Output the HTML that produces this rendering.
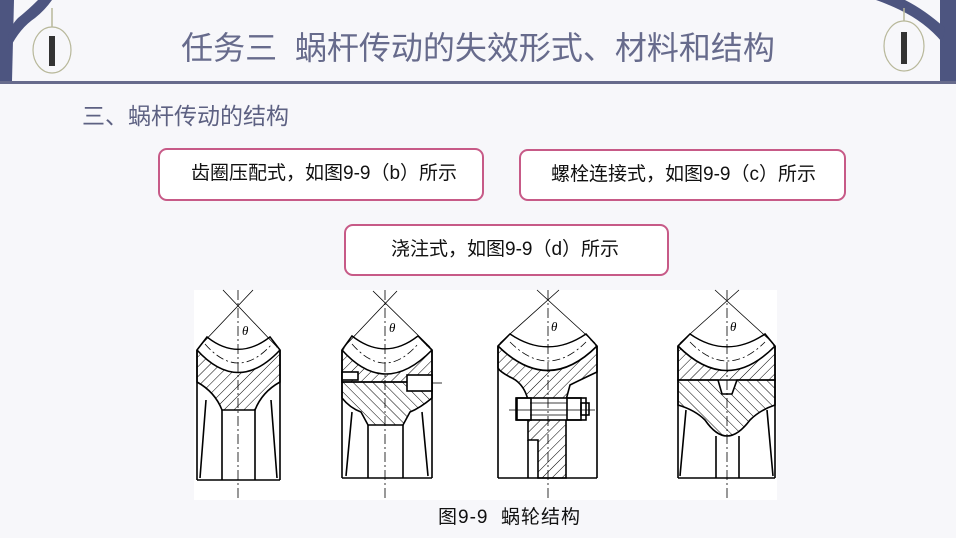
<!DOCTYPE html>
<html><head><meta charset="utf-8"><style>
html,body{margin:0;padding:0}
body{width:956px;height:538px;background:#f7f7fa;position:relative;overflow:hidden;font-family:"Liberation Sans","Noto Sans CJK SC",sans-serif}
.t{position:absolute;white-space:nowrap}
.box{position:absolute;border:2px solid #c75a87;border-radius:9px;background:#fff;box-sizing:border-box;font-size:19px;color:#111;line-height:48px}
</style></head><body>
<svg width="956" height="538" style="position:absolute;left:0;top:0">
<defs>
<pattern id="h" patternUnits="userSpaceOnUse" width="7" height="7" patternTransform="rotate(45)"><line x1="0" y1="0" x2="0" y2="7" stroke="#000" stroke-width="1"/></pattern>
<pattern id="h2" patternUnits="userSpaceOnUse" width="7" height="7" patternTransform="rotate(-45)"><line x1="0" y1="0" x2="0" y2="7" stroke="#000" stroke-width="1"/></pattern>
</defs>
<!-- header decoration -->
<rect x="0" y="81" width="956" height="3" fill="#676b8c"/>
<path d="M0,0 L14,0 L12,81 L0,81 Z" fill="#4d5580"/>
<path d="M10,48 Q20,28 35,18 Q45,10 52,0 L38,0 Q28,10 18,18 Q10,26 8,38 Z" fill="#4d5580"/>
<ellipse cx="52" cy="50" rx="19" ry="23" fill="none" stroke="#b8b89a" stroke-width="1.2"/>
<path d="M52,27 L52,8" stroke="#b8b89a" stroke-width="1.5"/>
<rect x="49" y="36" width="6" height="30" fill="#333"/>
<path d="M940,0 L956,0 L956,81 L940,81 Z" fill="#4d5580"/>
<path d="M942,42 Q925,22 900,10 Q885,3 876,0 L905,0 Q925,10 945,28 Z" fill="#4d5580"/>
<ellipse cx="904" cy="46" rx="20" ry="25" fill="none" stroke="#b8b89a" stroke-width="1.2"/>
<path d="M904,21 L904,8" stroke="#b8b89a" stroke-width="1.5"/>
<rect x="901" y="32" width="6" height="32" fill="#333"/>
<!-- figure area -->
<rect x="194" y="290" width="583" height="210" fill="#fff"/>
<g stroke="#000" stroke-width="1.6" fill="none">
<!-- fig a center 238 -->
<path d="M197,350 L207,337 Q238,362 270,337 L280,350 L280,382 Q262,392 255,410 L222,410 Q215,392 197,382 Z" fill="url(#h)"/>
<path d="M198,351 L207,338 Q238,362 270,338 L279,351 Q238,395 198,351 Z" fill="#fff" stroke="none"/>
<path d="M197,350 Q238,395 280,350"/>
<path d="M205,344 Q238,382 272,344" stroke-width="0.8" stroke-dasharray="8 3 2 3"/>
<path d="M197,350 L197,480 M280,350 L280,480 M222,410 L222,480 M255,410 L255,480 M197,480 L280,480 M206,400 L200,478 M271,400 L277,478"/>
<path d="M199,347 L253,290 M277,347 L223,290" stroke-width="0.8"/>
<path d="M238,290 L238,500" stroke-width="0.8" stroke-dasharray="10 3 2 3"/>
<text x="242" y="335" font-size="13" font-style="italic" stroke="none" fill="#000" font-family="Liberation Serif">θ</text>
<!-- fig b center 385 -->
<path d="M342,350 L352,336 Q385,362 418,336 L432,350 L432,382 L342,382 Z" fill="url(#h)"/>
<path d="M343,351 L352,337 Q385,362 418,337 L431,351 Q385,398 343,351 Z" fill="#fff" stroke="none"/>
<path d="M342,350 Q385,398 432,350"/>
<path d="M352,344 Q385,382 418,344" stroke-width="0.8" stroke-dasharray="8 3 2 3"/>
<path d="M342,382 L432,382 L432,398 Q420,408 410,412 L403,425 L368,425 L361,412 Q350,408 342,398 Z" fill="url(#h2)"/>
<rect x="342" y="372" width="16" height="8" fill="#fff"/>
<rect x="407" y="375" width="25" height="16" fill="#fff"/>
<path d="M432,383 L442,383" stroke-width="0.8"/>
<path d="M342,350 L342,478 M432,350 L432,478 M368,425 L368,478 M403,425 L403,478 M342,478 L432,478 M352,412 L346,476 M422,412 L428,476"/>
<path d="M344,347 L397,291 M430,347 L373,291" stroke-width="0.8"/>
<path d="M385,290 L385,500" stroke-width="0.8" stroke-dasharray="10 3 2 3"/>
<text x="389" y="332" font-size="13" font-style="italic" stroke="none" fill="#000" font-family="Liberation Serif">θ</text>
<!-- fig c center 548 -->
<path d="M498,346 L510,334 Q548,360 586,334 L597,346 L597,372 Q580,380 570,385 L566,400 L566,478 L538,478 L538,440 L528,440 L528,400 Q524,384 512,378 Q500,372 498,368 Z" fill="url(#h)"/>
<path d="M499,347 L510,335 Q548,360 586,335 L596,347 Q548,395 499,347 Z" fill="#fff" stroke="none"/>
<path d="M498,346 Q548,395 597,346"/>
<path d="M510,342 Q548,380 586,342" stroke-width="0.8" stroke-dasharray="8 3 2 3"/>
<rect x="516" y="398" width="70" height="22" fill="#fff"/>
<rect x="517" y="398" width="14" height="22"/><rect x="567" y="398" width="14" height="22"/><rect x="581" y="403" width="8" height="12"/>
<path d="M530,403 L567,403 M530,415 L567,415 M509,410 L595,410" stroke-width="0.8"/>
<path d="M498,346 L498,478 M597,346 L597,478 M498,478 L597,478 M528,440 L528,478"/>
<path d="M500,343 L559,290 M595,343 L537,290" stroke-width="0.8"/>
<path d="M548,290 L548,500" stroke-width="0.8" stroke-dasharray="10 3 2 3"/>
<text x="551" y="331" font-size="13" font-style="italic" stroke="none" fill="#000" font-family="Liberation Serif">θ</text>
<!-- fig d center 727 -->
<path d="M678,346 L690,334 Q727,360 765,334 L775,346 L775,380 L678,380 Z" fill="url(#h)"/>
<path d="M679,347 L690,335 Q727,360 765,335 L774,347 Q727,395 679,347 Z" fill="#fff" stroke="none"/>
<path d="M678,346 Q727,395 775,346"/>
<path d="M690,342 Q727,380 765,342" stroke-width="0.8" stroke-dasharray="8 3 2 3"/>
<path d="M678,380 L718,380 L722,394 L732,394 L737,380 L775,380 L775,405 Q760,410 750,420 Q738,436 727,436 Q716,436 705,420 Q695,410 678,405 Z" fill="url(#h2)"/>
<path d="M678,346 L678,478 M775,346 L775,478 M678,478 L775,478 M716,436 L716,478 M739,436 L739,478 M686,410 L680,476 M767,410 L773,476"/>
<path d="M680,343 L739,290 M773,343 L715,290" stroke-width="0.8"/>
<path d="M727,290 L727,500" stroke-width="0.8" stroke-dasharray="10 3 2 3"/>
<text x="730" y="331" font-size="13" font-style="italic" stroke="none" fill="#000" font-family="Liberation Serif">θ</text>
</g>
</svg>
<div class="t" style="left:0;width:956px;text-align:center;top:27px;font-size:32px;color:#676b8c;line-height:42px">任务三&nbsp;&nbsp;蜗杆传动的失效形式、材料和结构</div>
<div class="t" style="left:82px;top:101px;font-size:23px;color:#5d6182;line-height:30px">三、蜗杆传动的结构</div>
<div class="box" style="left:158px;top:148px;width:326px;height:53px;padding-left:31px">齿圈压配式，如图9-9（b）所示</div>
<div class="box" style="left:519px;top:149px;width:327px;height:52px;padding-left:30px">螺栓连接式，如图9-9（c）所示</div>
<div class="box" style="left:344px;top:224px;width:325px;height:52px;padding-left:45px">浇注式，如图9-9（d）所示</div>
<div class="t" style="left:438px;top:504px;font-size:19px;color:#111;line-height:28px;letter-spacing:1px">图9-9&nbsp;&nbsp;蜗轮结构</div>
</body></html>
